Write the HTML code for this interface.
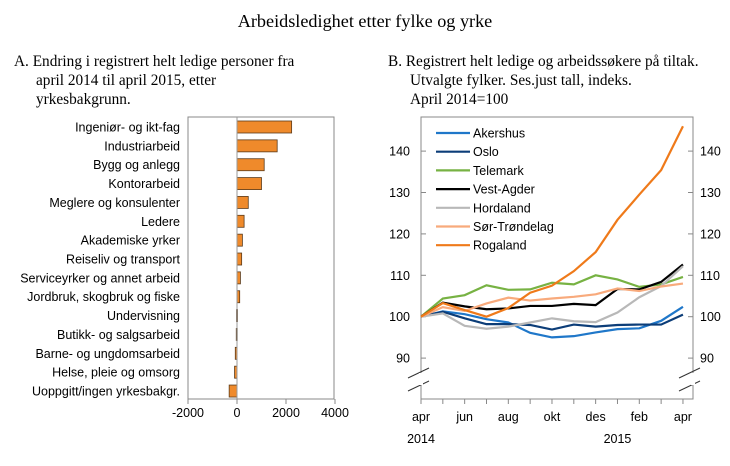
<!DOCTYPE html>
<html><head><meta charset="utf-8"><style>
body{margin:0;background:#fff;width:730px;height:461px;overflow:hidden}
svg text{font-family:"Liberation Sans",sans-serif}
.serif{font-family:"Liberation Serif",serif}
</style></head><body>
<svg id="c" width="730" height="461" xmlns="http://www.w3.org/2000/svg">
<text class="serif" x="365" y="27" text-anchor="middle" font-size="18.2" fill="#000">Arbeidsledighet etter fylke og yrke</text>
<g class="serif" font-size="15.3" fill="#000">
<text class="serif" x="14" y="66">A.  Endring i registrert helt ledige personer fra</text>
<text class="serif" x="36" y="85">april 2014 til april 2015, etter</text>
<text class="serif" x="36" y="104">yrkesbakgrunn.</text></g>
<g font-size="15.3" fill="#000">
<text class="serif" x="388" y="66">B.  Registrert helt ledige og arbeidssøkere på tiltak.</text>
<text class="serif" x="410" y="85">Utvalgte fylker. Ses.just tall, indeks.</text>
<text class="serif" x="410" y="104">April 2014=100</text></g>
<g id="left"></g><g id="right"></g>
</svg>
<script>
const NS="http://www.w3.org/2000/svg";
function mk(p,t,a){const e=document.createElementNS(NS,t);for(const k in a)e.setAttribute(k,a[k]);p.appendChild(e);return e;}
// Left chart data
const occCategories=["Ingeniør- og ikt-fag","Industriarbeid","Bygg og anlegg","Kontorarbeid","Meglere og konsulenter","Ledere","Akademiske yrker","Reiseliv og transport","Serviceyrker og annet arbeid","Jordbruk, skogbruk og fiske","Undervisning","Butikk- og salgsarbeid","Barne- og ungdomsarbeid","Helse, pleie og omsorg","Uoppgitt/ingen yrkesbakgr."];
const occChange=[2230,1640,1110,1000,460,290,220,190,140,110,-20,-30,-70,-100,-320];
const xTicksLeft=[-2000,0,2000,4000];
const L=document.getElementById('left');
const lx=v=>237+(v)*(49/2000);
const ly=i=>127+i*18.86;
mk(L,'rect',{x:188,y:117,width:146,height:282,fill:'none',stroke:'#888','stroke-width':1});
xTicksLeft.forEach(t=>{const g=mk(L,'text',{x:lx(t),y:417,'text-anchor':'middle','font-size':12.5,fill:'#000'});g.textContent=t;


mk(L,'line',{x1:lx(t),x2:lx(t),y1:399,y2:404,stroke:'#888'});});
occCategories.forEach((c,i)=>{
const v=occChange[i];
const r=mk(L,'rect',{x:Math.min(lx(0),lx(v)),y:ly(i)-6,width:Math.max(1,Math.abs(lx(v)-lx(0))),height:12,fill:'#ef8a2b',stroke:'#5a3a1a','stroke-width':0.8});


const t=mk(L,'text',{x:180,y:ly(i)+4.5,'text-anchor':'end','font-size':12.5,fill:'#000'});t.textContent=c;


});
mk(L,'line',{x1:lx(0),x2:lx(0),y1:117,y2:399,stroke:'#999','stroke-width':1});
// Right chart data
const monthLabels=["apr","","jun","","aug","","okt","","des","","feb","","apr"];
const yTicksRight=[90,100,110,120,130,140];
const seriesNames=["Akershus","Oslo","Telemark","Vest-Agder","Hordaland","Sør-Trøndelag","Rogaland"];
const seriesColors=["#1f77c9","#0c3d78","#77b243","#000000","#b8b8b8","#f8aa7c","#ef7a1a"];
const akershus=[100,101.3,100.6,99.4,98.6,96.1,95,95.3,96.2,97,97.2,99,102.4];
const oslo=[100,101.2,99.6,98.2,98.2,98,96.9,98.1,97.6,98,98.1,98.1,100.5];
const telemark=[100,104.4,105.2,107.6,106.5,106.6,108.2,107.8,110,109,107.2,107.8,109.6];
const vestAgder=[100,103.4,102.5,101.8,102,102.6,102.6,103.1,102.8,106.7,106.6,108.4,112.6];
const hordaland=[100,100.8,97.8,97.1,97.6,98.6,99.6,98.9,98.7,101,104.7,107.4,112.2];
const sorTrondelag=[100,102.3,101.4,103.2,104.6,103.9,104.4,104.8,105.4,106.8,106.2,107.3,108];
const rogaland=[100,103.3,101.6,100,102.1,105.8,107.5,111,115.6,123.4,129.5,135.4,146];
const allSeries=[akershus,oslo,telemark,vestAgder,hordaland,sorTrondelag,rogaland];
const R=document.getElementById('right');
const rx=i=>421+i*21.83;
const ry=v=>316.7-(v-100)*4.14;
mk(R,'rect',{x:421,y:117,width:272,height:282,fill:'none',stroke:'#888'});
yTicksRight.forEach(t=>{
mk(R,'line',{x1:421,x2:426,y1:ry(t),y2:ry(t),stroke:'#888'});
mk(R,'line',{x1:688,x2:693,y1:ry(t),y2:ry(t),stroke:'#888'});
const a=mk(R,'text',{x:410,y:ry(t)+4.5,'text-anchor':'end','font-size':12.5});a.textContent=t;


const b=mk(R,'text',{x:700,y:ry(t)+4.5,'font-size':12.5});b.textContent=t;


});
monthLabels.forEach((m,i)=>{mk(R,'line',{x1:rx(i),x2:rx(i),y1:399,y2:404,stroke:'#888'});
if(m){const t=mk(R,'text',{x:rx(i),y:421,'text-anchor':'middle','font-size':12.5});t.textContent=m;

}});
[[rx(0),'2014'],[rx(9),'2015']].forEach(([x,s])=>{const t=mk(R,'text',{x:x,y:443,'text-anchor':'middle','font-size':12.5});t.textContent=s;

});
[[408,378,429,368],[408,391,429,381],[679,378,700,368],[679,391,700,381]].forEach(([a,b,c,d])=>mk(R,'line',{x1:a,y1:b,x2:c,y2:d,stroke:'#333'}));
mk(R,'rect',{x:419,y:373,width:4,height:12,fill:'#fff'});mk(R,'rect',{x:691,y:373,width:4,height:12,fill:'#fff'});
allSeries.forEach((s,k)=>{
const p=mk(R,'polyline',{points:s.map((v,i)=>rx(i)+','+ry(v)).join(' '),fill:'none',stroke:seriesColors[k],'stroke-width':2.2});


const y=133+k*18.7;
mk(R,'line',{x1:436,x2:470,y1:y,y2:y,stroke:seriesColors[k],'stroke-width':2.2});
const t=mk(R,'text',{x:473,y:y+4.5,'font-size':12.5});t.textContent=seriesNames[k];


});
</script>
</body></html>
